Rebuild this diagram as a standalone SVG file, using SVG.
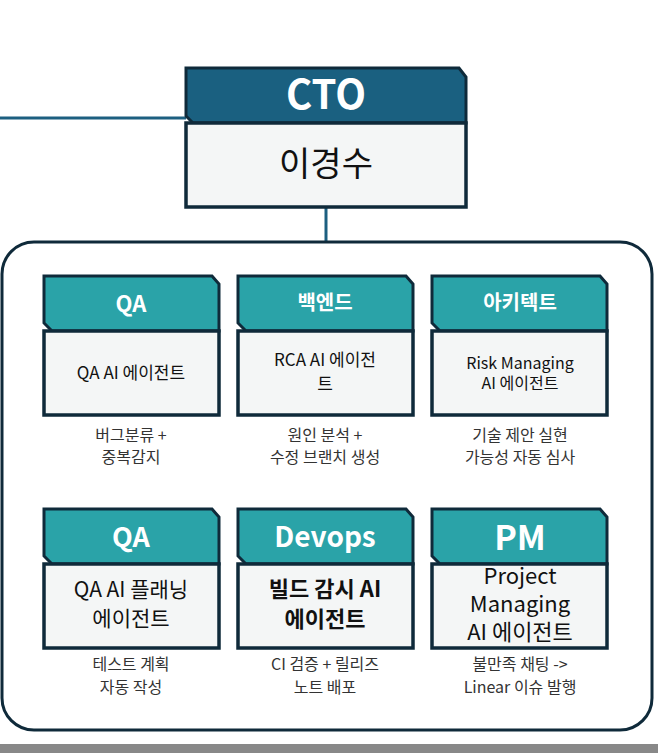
<svg xmlns="http://www.w3.org/2000/svg" width="658" height="753" viewBox="0 0 658 753">
<style>
text{font-family:"Noto Sans CJK KR","Noto Sans",sans-serif;text-anchor:middle}
.hd{fill:#2aa3a8;stroke:#0f2a3a;stroke-width:3}
.bd{fill:#f4f6f6;stroke:#0f2a3a;stroke-width:3.5}
.ht{fill:#fff;font-weight:700}
.bt{fill:#111}
.cap{fill:#333;font-size:16px}
.ln{stroke:#1c5f80;stroke-width:3;fill:none}
</style>
<rect width="658" height="753" fill="#fff"/>
<rect x="0" y="744" width="658" height="9" fill="#888"/>
<g id="connectors">
<path class="ln" d="M0 118H186"/>
<path class="ln" d="M326 207V242"/>
</g>
<rect id="container" x="2" y="242" width="650" height="488" rx="32" fill="#fff" stroke="#0f2a3a" stroke-width="3"/>
<g id="cto">
<polygon points="186,68 459,68 466,77 466,123 193,123 186,116" fill="#1a6080" stroke="#0f2a3a" stroke-width="3"/>
<rect x="186" y="123" width="280" height="84" fill="#f4f6f6" stroke="#0f2a3a" stroke-width="3.5"/>
<text x="326" y="109" font-size="40" class="ht" font-family="Liberation Sans">CTO</text>
<text x="326" y="176" font-size="34" class="bt">이경수</text>
</g>
<g id="n1"><polygon class="hd" points="44,276 212,276 219,284 219,331 52,331 44,323"/><rect class="bd" x="44" y="331" width="175" height="84"/>
<text x="131" y="312" font-size="22" class="ht">QA</text><text x="131" y="379" font-size="17" class="bt">QA AI 에이전트</text>
<text x="131" y="441" class="cap">버그분류 +</text><text x="131" y="463" class="cap">중복감지</text></g>
<g id="n2"><polygon class="hd" points="238,276 406,276 413,284 413,331 246,331 238,323"/><rect class="bd" x="238" y="331" width="175" height="84"/>
<text x="325" y="366" font-size="17" class="bt">RCA AI 에이전</text><text x="325" y="390" font-size="17" class="bt">트</text><text x="325" y="310" font-size="20" class="ht">백엔드</text>
<text x="325" y="441" class="cap">원인 분석 +</text><text x="325" y="463" class="cap">수정 브랜치 생성</text></g>
<g id="n3"><polygon class="hd" points="432,276 600,276 607,284 607,331 440,331 432,323"/><rect class="bd" x="432" y="331" width="175" height="84"/>
<text x="520" y="310" font-size="20" class="ht">아키텍트</text><text x="520" y="369" font-size="16" class="bt">Risk Managing</text><text x="520" y="389" font-size="16" class="bt">AI 에이전트</text>
<text x="520" y="441" class="cap">기술 제안 실현</text><text x="520" y="463" class="cap">가능성 자동 심사</text></g>
<g id="n4"><polygon class="hd" points="44,509 212,509 219,517 219,564 52,564 44,556"/><rect class="bd" x="44" y="564" width="175" height="84"/>
<text x="131" y="547" font-size="27" class="ht">QA</text><text x="131" y="597" font-size="21" class="bt">QA AI 플래닝</text><text x="131" y="626" font-size="21" class="bt">에이전트</text>
<text x="131" y="670" class="cap">테스트 계획</text><text x="131" y="693" class="cap">자동 작성</text></g>
<g id="n5"><polygon class="hd" points="238,509 406,509 413,517 413,564 246,564 238,556"/><rect class="bd" x="238" y="564" width="175" height="84"/>
<text x="325" y="547" font-size="28" class="ht" font-family="Liberation Sans">Devops</text><text x="325" y="597" font-size="22" class="bt" font-weight="700">빌드 감시 AI</text><text x="325" y="627" font-size="22" class="bt" font-weight="700">에이전트</text>
<text x="325" y="670" class="cap">CI 검증 + 릴리즈</text><text x="325" y="693" class="cap">노트 배포</text></g>
<g id="n6"><polygon class="hd" points="432,509 600,509 607,517 607,564 440,564 432,556"/><rect class="bd" x="432" y="564" width="175" height="84"/>
<text x="520" y="550" font-size="34" class="ht" font-family="Liberation Sans">PM</text><text x="520" y="584" font-size="22" class="bt">Project</text><text x="520" y="612" font-size="22" class="bt">Managing</text><text x="520" y="640" font-size="22" class="bt">AI 에이전트</text>
<text x="520" y="670" class="cap">불만족 채팅 -&gt;</text><text x="520" y="693" class="cap">Linear 이슈 발행</text></g>
</svg>
